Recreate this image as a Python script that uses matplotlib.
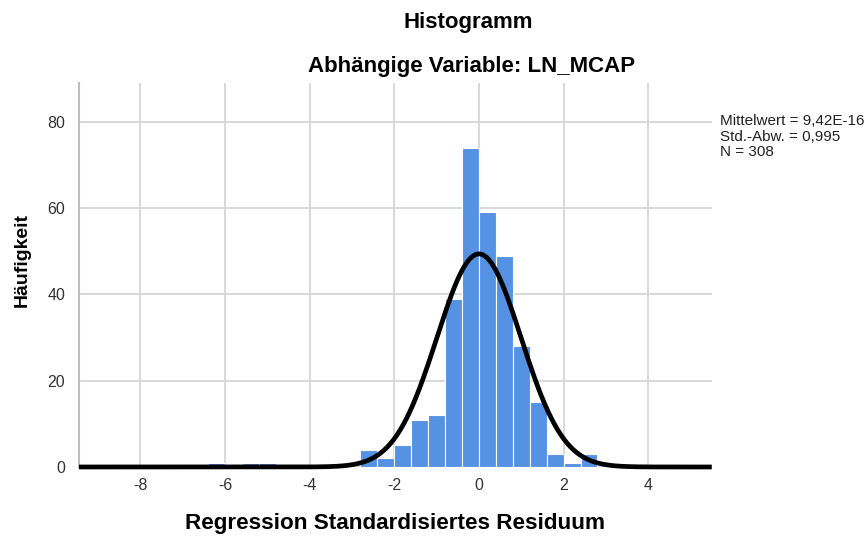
import numpy as np
import matplotlib.pyplot as plt

# === Daten ===
bin_left = [-6.4, -5.6, -5.2,
            -2.8, -2.4, -2.0, -1.6, -1.2, -0.8, -0.4,
            0.0, 0.4, 0.8, 1.2, 1.6, 2.0, 2.4]
counts = [1, 1, 1,
          4, 2, 5, 11, 12, 39, 74,
          59, 49, 28, 15, 3, 1, 3]
bin_width = 0.4

mean = 9.42e-16
std = 0.995
n = 308

x_ticks = [-8, -6, -4, -2, 0, 2, 4]
y_ticks = [0, 20, 40, 60, 80]
x_lim = (-9.45, 5.5)

# === Plot ===
plt.rcParams['font.family'] = ['Liberation Sans', 'DejaVu Sans']
fig = plt.figure(figsize=(8.68, 5.43), dpi=100)
ax = fig.add_axes([0.091, 0.140, 0.729, 0.707])

ax.bar(bin_left, counts, width=bin_width, align='edge',
       color='#5592e3', edgecolor='white', linewidth=0.8, zorder=2)

# Normalverteilungskurve
xs = np.linspace(x_lim[0], x_lim[1], 600)
ys = n * bin_width / (std * np.sqrt(2 * np.pi)) * np.exp(-0.5 * ((xs - mean) / std) ** 2)
ax.plot(xs, ys, color='black', linewidth=3.4, zorder=3, clip_on=False,
        solid_capstyle='butt')

ax.set_xlim(*x_lim)
ax.set_ylim(0, 89)
ax.set_xticks(x_ticks)
ax.set_yticks(y_ticks)
ax.set_xticklabels([str(v) for v in x_ticks])
ax.grid(True, color='#d5d5d5', linewidth=1.3, zorder=0)
ax.set_axisbelow(True)
ax.tick_params(length=0, labelsize=11.5, colors='#333333')
ax.tick_params(axis='x', pad=8)
ax.tick_params(axis='y', pad=10)

for s in ['top', 'right', 'bottom']:
    ax.spines[s].set_visible(False)
ax.spines['left'].set_color('#bdbdbd')
ax.spines['left'].set_linewidth(1.5)

ax.set_xlabel('Regression Standardisiertes Residuum', fontsize=16.2,
              fontweight='bold', va='center')
ax.xaxis.set_label_coords(0.499, -0.146)
ax.set_ylabel('Häufigkeit', fontsize=14, fontweight='bold', va='center')
ax.yaxis.set_label_coords(-0.090, 0.54)

fig.text(0.540, 0.958, 'Histogramm', ha='center', va='center',
         fontsize=16, fontweight='bold')
fig.text(0.543, 0.877, 'Abhängige Variable: LN_MCAP', ha='center', va='center',
         fontsize=16, fontweight='bold')

fig.text(0.829, 0.748, f'Mittelwert = 9,42E-16\nStd.-Abw. = 0,995\nN = {n}',
         ha='left', va='center', fontsize=11, color='#222222', linespacing=1.15)

fig.savefig('out.png', dpi=100)
